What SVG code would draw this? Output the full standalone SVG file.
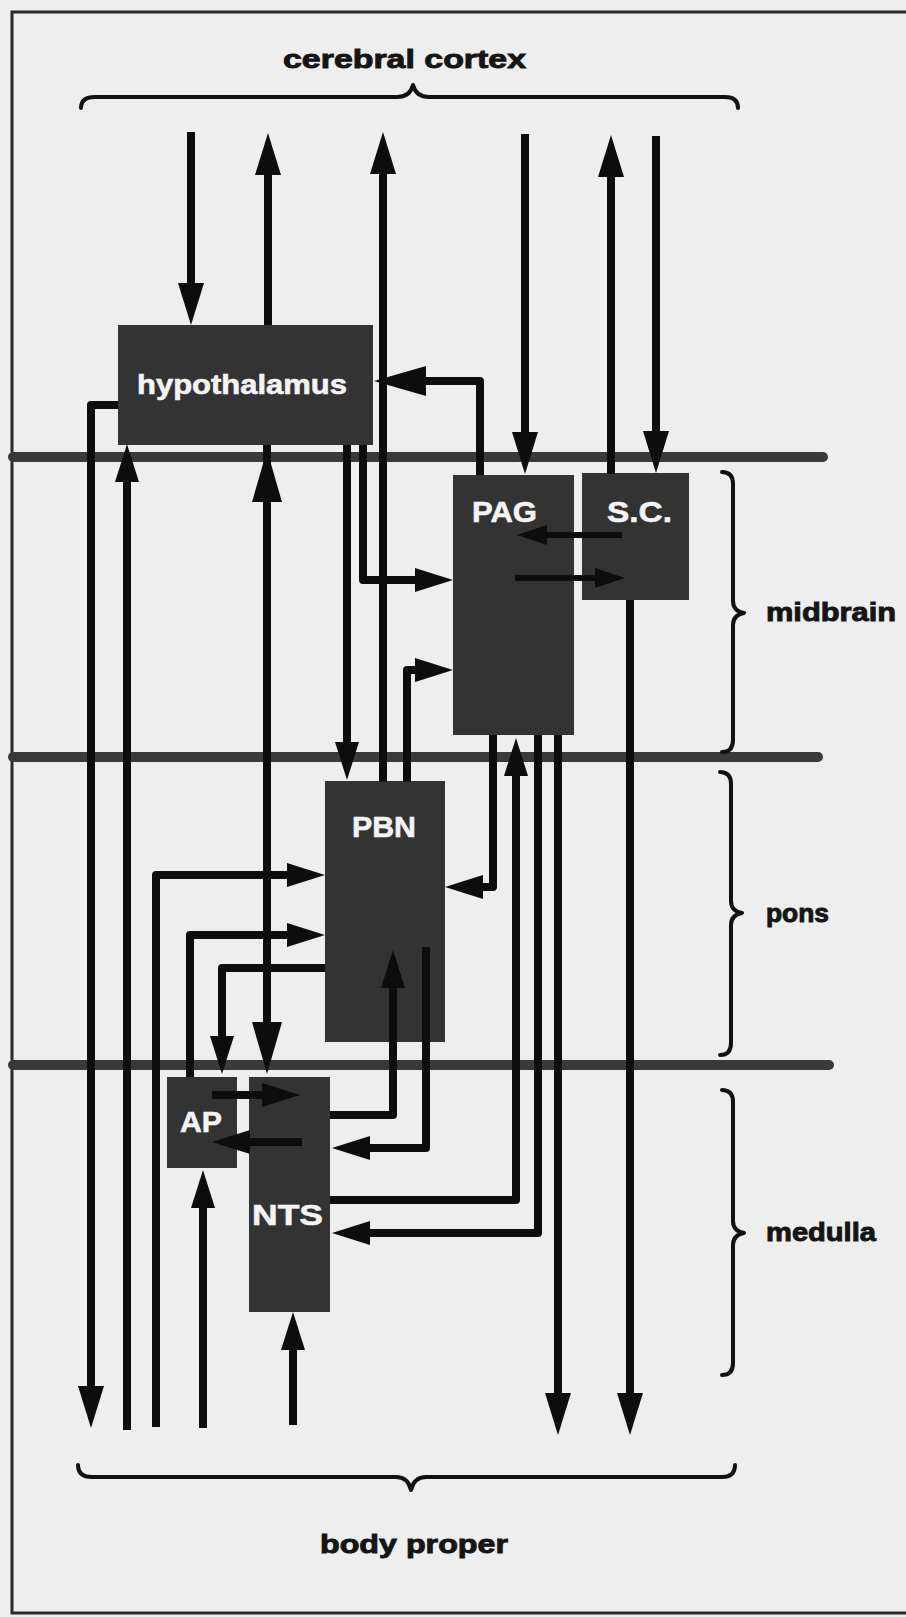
<svg xmlns="http://www.w3.org/2000/svg" width="906" height="1617" viewBox="0 0 906 1617">
<style>
.bg{fill:#edeeed}
.frame{stroke:#2a2a2a;stroke-width:3;fill:none}
.sep{stroke:#3a3a3a;stroke-width:10;stroke-linecap:round;fill:none}
.brace{stroke:#111;stroke-width:4;fill:none;stroke-linecap:round;stroke-linejoin:round}
.node{fill:#333333}
.lbl{font-family:"Liberation Sans",Arial,sans-serif;font-weight:bold;fill:#151515;stroke:#151515;stroke-width:0.9;font-size:25px}
.nl{font-family:"Liberation Sans",Arial,sans-serif;font-weight:bold;fill:#f4f4f4;stroke:#f4f4f4;stroke-width:0.6}
.c{stroke:#0d0d0d;stroke-width:8;fill:none;stroke-linejoin:round}
.t{stroke:#0d0d0d;stroke-width:6;fill:none}
.ah{fill:#0d0d0d}
</style>
<defs>
<marker id="aL" viewBox="0 0 42 26" markerWidth="42" markerHeight="26" refX="28" refY="13" orient="auto" markerUnits="userSpaceOnUse"><path class="ah" d="M0,0 L42,13 L0,26 Z"/></marker>
<marker id="aM" viewBox="0 0 38 24" markerWidth="38" markerHeight="24" refX="24" refY="12" orient="auto" markerUnits="userSpaceOnUse"><path class="ah" d="M0,0 L38,12 L0,24 Z"/></marker>
<marker id="aB" viewBox="0 0 52 30" markerWidth="52" markerHeight="30" refX="38" refY="15" orient="auto-start-reverse" markerUnits="userSpaceOnUse"><path class="ah" d="M0,0 L52,15 L0,30 Z"/></marker>
<marker id="aS" viewBox="0 0 30 20" markerWidth="30" markerHeight="20" refX="18" refY="10" orient="auto" markerUnits="userSpaceOnUse"><path class="ah" d="M0,0 L30,10 L0,20 Z"/></marker>
</defs>
<rect class="bg" x="0" y="0" width="906" height="1617"/>
<path class="frame" d="M906,12 H12 V1613 H906"/>

<g id="levels">
<line class="sep" x1="13" y1="457" x2="823" y2="457"/>
<line class="sep" x1="13" y1="757" x2="818" y2="757"/>
<line class="sep" x1="13" y1="1065" x2="829" y2="1065"/>
</g>

<g id="braces">
<path class="brace" d="M81,108 Q81,97 95,97 L397,97 Q410,97 413,85 Q416,97 429,97 L725,97 Q738,97 738,108"/>
<path class="brace" d="M78,1465 Q78,1477 92,1477 L396,1477 Q408,1477 411,1490 Q414,1477 426,1477 L722,1477 Q735,1477 735,1465"/>
<path class="brace" d="M722,472 Q733,472 733,484 L733,601 Q733,611 744,613 Q733,615 733,625 L733,740 Q733,752 722,752"/>
<path class="brace" d="M720,772 Q731,772 731,784 L731,901 Q731,911 742,913 Q731,915 731,925 L731,1043 Q731,1055 720,1055"/>
<path class="brace" d="M722,1090 Q733,1090 733,1102 L733,1221 Q733,1231 744,1233 Q733,1235 733,1245 L733,1363 Q733,1375 722,1375"/>
</g>

<g id="labels">
<text class="lbl" x="283" y="68" textLength="243" lengthAdjust="spacingAndGlyphs">cerebral cortex</text>
<text class="lbl" x="320" y="1553" textLength="188" lengthAdjust="spacingAndGlyphs" font-size="26">body proper</text>
<text class="lbl" x="766" y="621" textLength="130" lengthAdjust="spacingAndGlyphs">midbrain</text>
<text class="lbl" x="766" y="922" textLength="63" lengthAdjust="spacingAndGlyphs">pons</text>
<text class="lbl" x="766" y="1241" textLength="110" lengthAdjust="spacingAndGlyphs">medulla</text>
</g>

<g id="hypothalamus">
<rect class="node" x="118" y="325" width="255" height="120"/>
<text class="nl" x="137" y="394" font-size="27" textLength="210" lengthAdjust="spacingAndGlyphs">hypothalamus</text>
</g>
<g id="PAG">
<rect class="node" x="453" y="475" width="121" height="260"/>
<text class="nl" x="472" y="522" font-size="30" textLength="65" lengthAdjust="spacingAndGlyphs">PAG</text>
</g>
<g id="SC">
<rect class="node" x="582" y="473" width="107" height="127"/>
<text class="nl" x="607" y="522" font-size="30" textLength="65" lengthAdjust="spacingAndGlyphs">S.C.</text>
</g>
<g id="PBN">
<rect class="node" x="325" y="781" width="120" height="261"/>
<text class="nl" x="352" y="837" font-size="30" textLength="64" lengthAdjust="spacingAndGlyphs">PBN</text>
</g>
<g id="AP">
<rect class="node" x="167" y="1077" width="70" height="91"/>
<text class="nl" x="180" y="1132" font-size="30" textLength="42" lengthAdjust="spacingAndGlyphs">AP</text>
</g>
<g id="NTS">
<rect class="node" x="249" y="1077" width="81" height="235"/>
<text class="nl" x="252" y="1225" font-size="30" textLength="71" lengthAdjust="spacingAndGlyphs">NTS</text>
</g>

<g id="connectors">
<path class="c" d="M191,132 V311" marker-end="url(#aL)"/>
<path class="c" d="M268,325 V147" marker-end="url(#aL)"/>
<path class="c" d="M383,782 V146" marker-end="url(#aL)"/>
<path class="c" d="M525,134 V460" marker-end="url(#aL)"/>
<path class="c" d="M611,474 V149" marker-end="url(#aL)"/>
<path class="c" d="M656,136 V459" marker-end="url(#aL)"/>
<path class="c" d="M480,475 V381 H388" marker-end="url(#aB)"/>
<path class="c" d="M118,405 H91 V1414" marker-end="url(#aL)"/>
<path class="c" d="M127,1430 V458" marker-end="url(#aM)"/>
<path class="c" d="M156,1427 V875 H311" marker-end="url(#aM)"/>
<path class="c" d="M190,1077 V935 H311" marker-end="url(#aM)"/>
<path class="c" d="M325,968 H222 V1060" marker-end="url(#aM)"/>
<path class="c" d="M267,445 V464"/>
<path class="c" d="M267,464 V1060" marker-start="url(#aB)" marker-end="url(#aB)"/>
<path class="c" d="M330,1115 H393 V964" marker-end="url(#aM)"/>
<path class="c" d="M426,947 V1148 H346" marker-end="url(#aM)"/>
<path class="c" d="M493,735 V887 H459" marker-end="url(#aM)"/>
<path class="c" d="M330,1200 H516 V752" marker-end="url(#aM)"/>
<path class="c" d="M538,735 V1233 H346" marker-end="url(#aM)"/>
<path class="c" d="M558,735 V1421" marker-end="url(#aL)"/>
<path class="c" d="M630,600 V1421" marker-end="url(#aL)"/>
<path class="t" d="M622,535 H529" marker-end="url(#aS)"/>
<path class="t" d="M515,578 H613" marker-end="url(#aS)"/>
<path class="c" d="M347,445 V766" marker-end="url(#aM)"/>
<path class="c" d="M363,445 V580 H439" marker-end="url(#aM)"/>
<path class="c" d="M407,782 V670 H439" marker-end="url(#aM)"/>
<path class="c" d="M203,1428 V1184" marker-end="url(#aM)"/>
<path class="c" d="M293,1425 V1326" marker-end="url(#aM)"/>
<path class="c" d="M212,1095 H286" marker-end="url(#aM)"/>
<path class="c" d="M302,1142 H226" marker-end="url(#aM)"/>
</g>
</svg>
